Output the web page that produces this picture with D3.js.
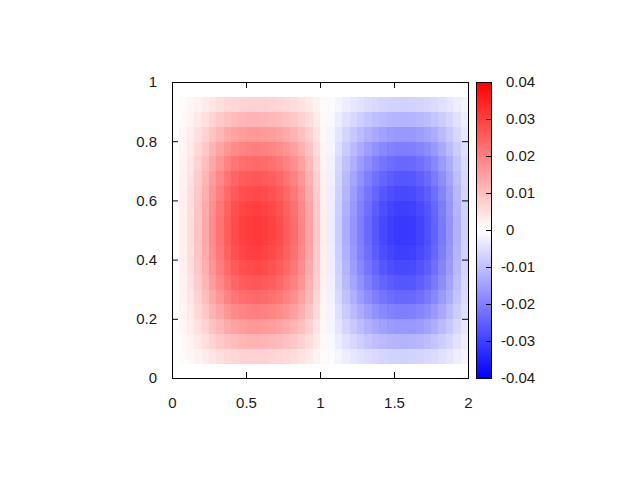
<!DOCTYPE html>
<html>
<head>
<meta charset="utf-8">
<script src="https://cdn.jsdelivr.net/npm/d3@7"></script>
<style>
  html, body { margin: 0; padding: 0; background: #fff; }
  svg { display: block; }
  text { font-family: "Liberation Sans", Arial, sans-serif; font-size: 15px; fill: #1a1a1a; }
</style>
</head>
<body>
<svg id="chart" width="640" height="480"></svg>
<script>
// ---- data ----
// cell edges along x (39 columns) and y (18 rows)
const xEdges = [0.05,0.10,0.15,0.20,0.25,0.30,0.35,0.40,0.45,0.50,0.55,0.60,0.65,0.70,0.75,0.80,0.85,0.90,0.95,1.00,
                1.05,1.10,1.15,1.20,1.25,1.30,1.35,1.40,1.45,1.50,1.55,1.60,1.65,1.70,1.75,1.80,1.85,1.90,1.95,2.00];
const yEdges = [0.05,0.10,0.15,0.20,0.25,0.30,0.35,0.40,0.45,0.50,0.55,0.60,0.65,0.70,0.75,0.80,0.85,0.90,0.95];
// cell values in units of 1e-4, rows from bottom (y=0.05) to top (y=0.95)
const zRows = [
  [6,12,22,31,41,51,59,65,69,71,71,70,68,64,59,53,44,34,20,6,-6,-18,-29,-38,-46,-54,-60,-66,-69,-71,-72,-71,-68,-63,-57,-48,-39,-28,-17],
  [9,21,36,52,68,84,97,108,114,117,118,116,112,106,98,87,73,55,33,10,-11,-30,-49,-63,-77,-89,-100,-108,-114,-118,-119,-117,-112,-105,-93,-80,-64,-46,-28],
  [12,28,49,71,94,114,133,147,156,160,161,159,154,146,134,120,100,76,46,14,-15,-42,-67,-86,-105,-122,-137,-148,-157,-161,-162,-161,-153,-143,-128,-109,-87,-63,-38],
  [16,35,61,88,117,143,166,184,195,200,202,199,192,182,168,150,125,95,57,17,-18,-52,-83,-108,-131,-153,-171,-185,-196,-202,-203,-201,-192,-179,-160,-137,-109,-79,-48],
  [18,41,71,103,137,167,194,215,228,234,236,233,225,213,196,175,147,111,67,20,-21,-61,-97,-126,-154,-179,-200,-217,-229,-236,-237,-235,-224,-209,-187,-160,-128,-93,-56],
  [20,46,80,116,153,187,217,241,255,262,264,260,252,238,219,196,164,124,75,22,-24,-68,-109,-141,-172,-200,-224,-242,-256,-264,-265,-263,-251,-234,-209,-179,-143,-104,-63],
  [22,50,86,125,166,202,235,260,276,283,285,282,272,258,237,212,178,134,81,24,-26,-74,-118,-153,-186,-216,-242,-262,-277,-285,-287,-284,-271,-253,-226,-193,-155,-112,-68],
  [23,52,91,132,175,213,247,275,291,299,301,297,287,272,250,223,187,142,85,25,-27,-78,-124,-161,-196,-228,-255,-276,-292,-301,-303,-300,-286,-267,-239,-204,-163,-118,-72],
  [24,54,94,136,180,220,255,283,300,308,310,306,296,280,258,230,193,146,88,26,-28,-80,-128,-166,-202,-235,-263,-285,-301,-310,-312,-309,-295,-275,-246,-210,-168,-122,-74],
  [24,54,94,136,180,220,255,283,300,308,310,306,296,280,258,230,193,146,88,26,-28,-80,-128,-166,-202,-235,-263,-285,-301,-310,-312,-309,-295,-275,-246,-210,-168,-122,-74],
  [23,52,91,132,175,213,247,275,291,299,301,297,287,272,250,223,187,142,85,25,-27,-78,-124,-161,-196,-228,-255,-276,-292,-301,-303,-300,-286,-267,-239,-204,-163,-118,-72],
  [22,50,86,125,166,202,235,260,276,283,285,282,272,258,237,212,178,134,81,24,-26,-74,-118,-153,-186,-216,-242,-262,-277,-285,-287,-284,-271,-253,-226,-193,-155,-112,-68],
  [20,46,80,116,153,187,217,241,255,262,264,260,252,238,219,196,164,124,75,22,-24,-68,-109,-141,-172,-200,-224,-242,-256,-264,-265,-263,-251,-234,-209,-179,-143,-104,-63],
  [18,41,71,103,137,167,194,215,228,234,236,233,225,213,196,175,147,111,67,20,-21,-61,-97,-126,-154,-179,-200,-217,-229,-236,-237,-235,-224,-209,-187,-160,-128,-93,-56],
  [16,35,61,88,117,143,166,184,195,200,202,199,192,182,168,150,125,95,57,17,-18,-52,-83,-108,-131,-153,-171,-185,-196,-202,-203,-201,-192,-179,-160,-137,-109,-79,-48],
  [12,28,49,71,94,114,133,147,156,160,161,159,154,146,134,120,100,76,46,14,-15,-42,-67,-86,-105,-122,-137,-148,-157,-161,-162,-161,-153,-143,-128,-109,-87,-63,-38],
  [9,21,36,52,68,84,97,108,114,117,118,116,112,106,98,87,73,55,33,10,-11,-30,-49,-63,-77,-89,-100,-108,-114,-118,-119,-117,-112,-105,-93,-80,-64,-46,-28],
  [6,12,22,31,41,51,59,65,69,71,71,70,68,64,59,53,44,34,20,6,-6,-18,-29,-38,-46,-54,-60,-66,-69,-71,-72,-71,-68,-63,-57,-48,-39,-28,-17]
];
const xTicks = [0, 0.5, 1, 1.5, 2];
const xTickLabels = ["0", "0.5", "1", "1.5", "2"];
const yTicks = [0, 0.2, 0.4, 0.6, 0.8, 1];
const yTickLabels = ["0", "0.2", "0.4", "0.6", "0.8", "1"];
const cbTicks = [-0.04, -0.03, -0.02, -0.01, 0, 0.01, 0.02, 0.03, 0.04];
const cbTickLabels = ["-0.04", "-0.03", "-0.02", "-0.01", "0", "0.01", "0.02", "0.03", "0.04"];
const xDomain = [0, 2], yDomain = [0, 1], zDomain = [-0.04, 0.04];

// ---- layout ----
const plot = { left: 172, top: 82, width: 296, height: 296 };
const cb = { left: 476, top: 82, width: 15, height: 296 };

const svg = d3.select("#chart");
const x = d3.scaleLinear().domain(xDomain).range([plot.left, plot.left + plot.width]);
const y = d3.scaleLinear().domain(yDomain).range([plot.top + plot.height, plot.top]);
const color = d3.scaleLinear().domain([zDomain[0], 0, zDomain[1]]).range(["#0000ff", "#ffffff", "#ff0000"]).clamp(true);

// cells
const cells = [];
zRows.forEach((row, r) => row.forEach((v, c) => {
  cells.push({ x0: xEdges[c], x1: xEdges[c + 1], y0: yEdges[r], y1: yEdges[r + 1], z: v / 10000 });
}));
svg.append("g").selectAll("rect").data(cells).join("rect")
  .attr("x", d => x(d.x0))
  .attr("y", d => y(d.y1))
  .attr("width", d => x(d.x1) - x(d.x0) + 0.3)
  .attr("height", d => y(d.y0) - y(d.y1) + 0.3)
  .attr("fill", d => color(d.z))
  .attr("shape-rendering", "crispEdges");

// axes (inward ticks, mirrored)
const tickLen = 6;
function styleAxis(g) {
  g.select(".domain").remove();
  g.selectAll(".tick line").attr("stroke", "#000").attr("stroke-width", 1);
  g.selectAll("text").attr("fill", "#1a1a1a").style("font-family", "Liberation Sans, Arial, sans-serif").style("font-size", "15px");
}
svg.append("g").attr("transform", `translate(0,${plot.top + plot.height})`)
  .call(d3.axisBottom(x).tickValues(xTicks).tickFormat((d, i) => xTickLabels[i]).tickSizeInner(-tickLen).tickSizeOuter(0).tickPadding(19))
  .call(styleAxis);
svg.append("g").attr("transform", `translate(0,${plot.top})`)
  .call(d3.axisTop(x).tickValues(xTicks).tickFormat("").tickSizeInner(-tickLen).tickSizeOuter(0))
  .call(styleAxis);
svg.append("g").attr("transform", `translate(${plot.left},0)`)
  .call(d3.axisLeft(y).tickValues(yTicks).tickFormat((d, i) => yTickLabels[i]).tickSizeInner(-tickLen).tickSizeOuter(0).tickPadding(15))
  .call(styleAxis);
svg.append("g").attr("transform", `translate(${plot.left + plot.width},0)`)
  .call(d3.axisRight(y).tickValues(yTicks).tickFormat("").tickSizeInner(-tickLen).tickSizeOuter(0))
  .call(styleAxis);

// plot border
svg.append("rect")
  .attr("x", plot.left + 0.5).attr("y", plot.top + 0.5)
  .attr("width", plot.width).attr("height", plot.height)
  .attr("fill", "none").attr("stroke", "#000").attr("stroke-width", 1);

// colour box
const cbScale = d3.scaleLinear().domain(zDomain).range([cb.top + cb.height, cb.top]);
const grad = svg.append("defs").append("linearGradient")
  .attr("id", "cbgrad").attr("x1", 0).attr("y1", 1).attr("x2", 0).attr("y2", 0);
d3.range(0, 21).map(i => zDomain[0] + (zDomain[1] - zDomain[0]) * i / 20).forEach((v, i) => {
  grad.append("stop").attr("offset", `${i * 5}%`).attr("stop-color", color(v));
});
svg.append("rect")
  .attr("x", cb.left).attr("y", cb.top)
  .attr("width", cb.width).attr("height", cb.height)
  .attr("fill", "url(#cbgrad)");
svg.append("g").attr("transform", `translate(${cb.left + cb.width},0)`)
  .call(d3.axisRight(cbScale).tickValues(cbTicks).tickFormat((d, i) => cbTickLabels[i]).tickSizeInner(-5).tickSizeOuter(0).tickPadding(10))
  .call(styleAxis)
  .call(g => g.selectAll("text").attr("dx", d => d >= 0 ? "0.33em" : 0));
svg.append("rect")
  .attr("x", cb.left + 0.5).attr("y", cb.top + 0.5)
  .attr("width", cb.width).attr("height", cb.height)
  .attr("fill", "none").attr("stroke", "#000").attr("stroke-width", 1);
</script>
</body>
</html>
